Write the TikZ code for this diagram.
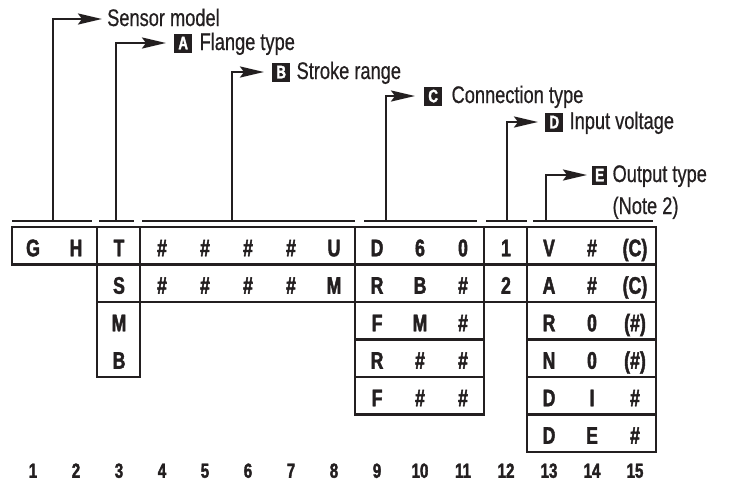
\documentclass[tikz,border=0pt]{standalone}
\usepackage{fontspec}
\usetikzlibrary{arrows.meta,positioning}
\newfontfamily\labelfont{Liberation Sans}[FakeStretch=0.76, FakeBold=0.6]
\newfontfamily\cellfont{Liberation Sans Bold}[FakeStretch=0.74, FakeBold=1.8]
\definecolor{ink}{RGB}{35,31,32}
\def\cellrow#1#2{\foreach \c/\t in {#2} \node[cell] (c#1-\c) at (43*\c-10, 210.25+37.5*#1) {\t};}

\tikzset{
	bracket/.style={draw=ink, line width=2.6pt},
	grid/.style={draw=ink, line width=2.5pt},
	leader/.style={draw=ink, line width=2.6pt, -{Stealth[length=24pt,width=11pt,inset=4pt]}},
	lbl/.style={font=\labelfont\fontsize{24}{28}\selectfont, text=ink, inner sep=0pt, text height=16pt, text depth=2pt},
	tagbox/.style={fill=ink, text=white, font=\cellfont\fontsize{18}{18}\selectfont, inner xsep=3pt, inner ysep=0pt, minimum height=19pt, minimum width=18pt, text height=12.5pt, text depth=0pt},
	cell/.style={font=\cellfont\fontsize{24}{24}\selectfont, text=ink, inner sep=0pt, text height=17pt, text depth=0pt},
	colnum/.style={font=\cellfont\fontsize{20.5}{21}\selectfont, text=ink, inner sep=0pt, text height=14.6pt, text depth=0pt}
}

\begin{document}
\begin{tikzpicture}[x=1pt, y=-1pt]
		\useasboundingbox (0,0) rectangle (733,482);
		%%%%% BRACKETS %%%%%
		
		\draw[bracket] (12, 221) -- (92, 221);
		\draw[bracket] (99, 221) -- (134, 221);
		\draw[bracket] (142, 221) -- (355, 221);
		\draw[bracket] (364, 221) -- (477, 221);
		\draw[bracket] (486, 221) -- (527, 221);
		\draw[bracket] (533, 221) -- (653, 221);
		
		\coordinate (footGH) at (53, 221);
		\coordinate (footA) at (116, 221);
		\coordinate (footB) at (232, 221);
		\coordinate (footC) at (386, 221);
		\coordinate (footD) at (507, 221);
		\coordinate (footE) at (546, 221);
		
		%%%%% LABELS %%%%%
		
		\coordinate (tipGH) at (102, 19);
		\node[lbl, right=5pt of tipGH] (lblGH) {Sensor model};
		
		\coordinate (tipA) at (166, 43);
		\node[tagbox, right=8pt of tipA] (tagA) {A};
		\node[lbl, right=7pt of tagA] (lblA) {Flange type};
		
		\coordinate (tipB) at (264, 72);
		\node[tagbox, right=8pt of tipB] (tagB) {B};
		\node[lbl, right=6pt of tagB] (lblB) {Stroke range};
		
		\coordinate (tipC) at (415, 96);
		\node[tagbox, right=9pt of tipC] (tagC) {C};
		\node[lbl, right=9pt of tagC] (lblC) {Connection type};
		
		\coordinate (tipD) at (538, 122);
		\node[tagbox, right=7pt of tipD] (tagD) {D};
		\node[lbl, right=6pt of tagD] (lblD) {Input voltage};
		
		\coordinate (tipE) at (587, 175);
		\node[tagbox, right=5pt of tipE, minimum width=15pt] (tagE) {E};
		\node[lbl, right=5pt of tagE] (lblE) {Output type};
		\node[lbl, anchor=west] (noteE) at ([yshift=-32pt]lblE.west) {(Note 2)};
		
		\draw[leader] (footGH) |- (tipGH);
		\draw[leader] (footA) |- (tipA);
		\draw[leader] (footB) |- (tipB);
		\draw[leader] (footC) |- (tipC);
		\draw[leader] (footD) |- (tipD);
		\draw[leader] (footE) |- (tipE);
		
		%%%%% TABLE %%%%%
		
		\draw[grid] (12, 227) -- (656, 227);
		\draw[grid] (12, 264.5) -- (656, 264.5);
		\draw[grid] (97, 302) -- (656, 302);
		\draw[grid] (355, 339.5) -- (484, 339.5);
		\draw[grid] (527, 339.5) -- (656, 339.5);
		\draw[grid] (97, 377) -- (140, 377);
		\draw[grid] (355, 377) -- (484, 377);
		\draw[grid] (527, 377) -- (656, 377);
		\draw[grid] (355, 414.5) -- (484, 414.5);
		\draw[grid] (527, 414.5) -- (656, 414.5);
		\draw[grid] (527, 452) -- (656, 452);
		
		\draw[grid] (12, 226) -- (12, 265.5);
		\draw[grid] (97, 226) -- (97, 378);
		\draw[grid] (140, 226) -- (140, 378);
		\draw[grid] (355, 226) -- (355, 415.5);
		\draw[grid] (484, 226) -- (484, 415.5);
		\draw[grid] (527, 226) -- (527, 453);
		\draw[grid] (656, 226) -- (656, 453);
		
		\cellrow{1}{1/G, 2/H, 3/T, 4/\#, 5/\#, 6/\#, 7/\#, 8/U, 9/D, 10/6, 11/0, 12/1, 13/V, 14/\#, 15/{(C)}}
		\cellrow{2}{3/S, 4/\#, 5/\#, 6/\#, 7/\#, 8/M, 9/R, 10/B, 11/\#, 12/2, 13/A, 14/\#, 15/{(C)}}
		\cellrow{3}{3/M, 9/F, 10/M, 11/\#, 13/R, 14/0, 15/{(\#)}}
		\cellrow{4}{3/B, 9/R, 10/\#, 11/\#, 13/N, 14/0, 15/{(\#)}}
		\cellrow{5}{9/F, 10/\#, 11/\#, 13/D, 14/I, 15/\#}
		\cellrow{6}{13/D, 14/E, 15/\#}
		
		\foreach \c in {1,...,15}
			\node[colnum] (n\c) at (43*\c-10, 470.5) {\c};
		
		%%%%% END %%%%%
\end{tikzpicture}
\end{document}
